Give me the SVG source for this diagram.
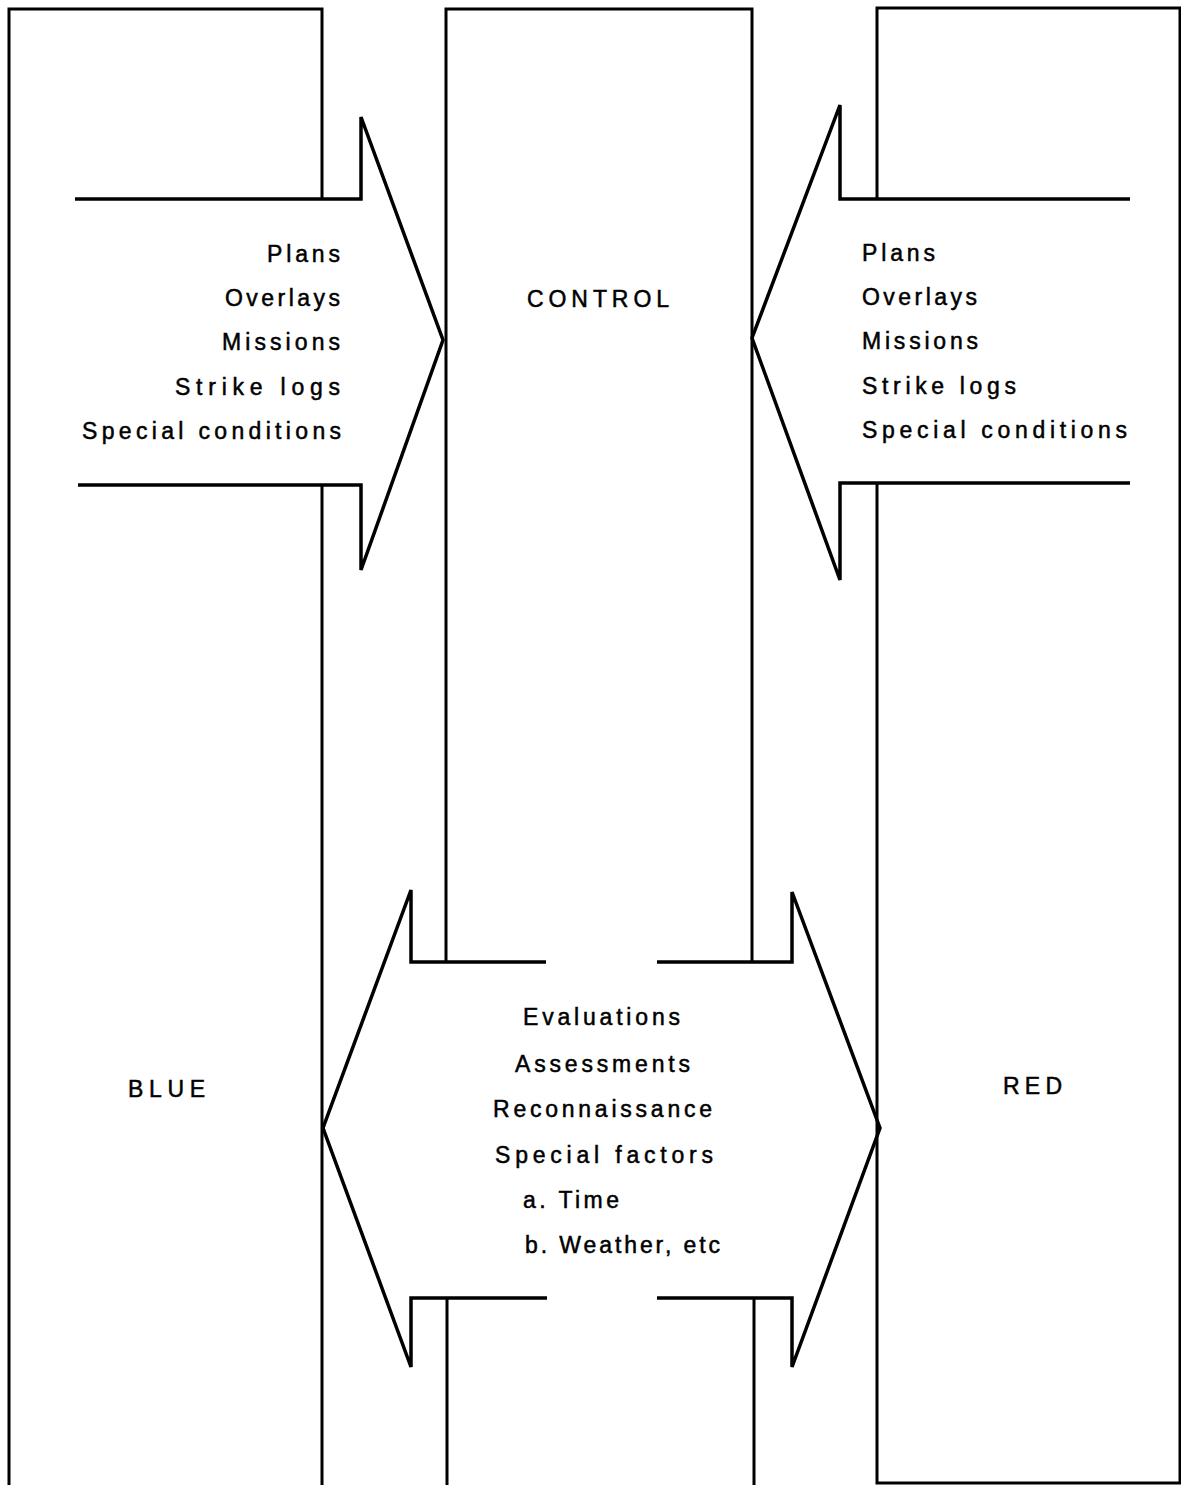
<svg xmlns="http://www.w3.org/2000/svg" width="1181" height="1485" viewBox="0 0 1181 1485">
  <style>
    .box { fill: none; stroke: #000; stroke-width: 3; stroke-linejoin: miter; }
    .arrow { fill: none; stroke: #000; stroke-width: 3.5; stroke-linejoin: miter; stroke-linecap: butt; }
    text { font-family: "Liberation Sans", Arial, sans-serif; font-size: 23px; fill: #000; stroke: #000; stroke-width: 0.5; }
  </style>
  <rect width="1181" height="1485" fill="#fff"/>

  <!-- BLUE side -->
  <g id="blue">
    <path class="box" d="M322 199 V9 H9 V1485 M322 485 V1485"/>
    <text x="128" y="1097" textLength="77" lengthAdjust="spacing">BLUE</text>
  </g>

  <!-- CONTROL -->
  <g id="control">
    <path class="box" d="M446 962 V9 H752 V962 M447 1298 V1485 M754 1298 V1485"/>
    <text x="527" y="307" textLength="142" lengthAdjust="spacing">CONTROL</text>
  </g>

  <!-- RED side -->
  <g id="red">
    <path class="box" d="M877 199 V8 H1180 V1483 H877 V483"/>
    <text x="1003" y="1094" textLength="59" lengthAdjust="spacing">RED</text>
  </g>

  <!-- flows between the parties -->
  <g id="connectors">
    <g id="blue-to-control">
      <path class="arrow" d="M75 199 H361 V117 L443 340 L361 570 V485 H78"/>
      <text x="267" y="262" textLength="73" lengthAdjust="spacing">Plans</text>
      <text x="225" y="306" textLength="115" lengthAdjust="spacing">Overlays</text>
      <text x="222" y="350" textLength="118" lengthAdjust="spacing">Missions</text>
      <text x="175" y="395" textLength="165" lengthAdjust="spacing">Strike logs</text>
      <text x="82" y="439" textLength="259" lengthAdjust="spacing">Special conditions</text>
    </g>
    <g id="red-to-control">
      <path class="arrow" d="M1130 199 H840 V105 L752 338 L840 580 V483 H1130"/>
      <text x="862" y="261" textLength="73" lengthAdjust="spacing">Plans</text>
      <text x="862" y="305" textLength="115" lengthAdjust="spacing">Overlays</text>
      <text x="862" y="349" textLength="116" lengthAdjust="spacing">Missions</text>
      <text x="862" y="394" textLength="154" lengthAdjust="spacing">Strike logs</text>
      <text x="862" y="438" textLength="265" lengthAdjust="spacing">Special conditions</text>
    </g>
    <g id="control-to-both">
      <path class="arrow" d="M546 962 H411 V890 L323 1128 L411 1367 V1298 H547"/>
      <path class="arrow" d="M657 962 H792 V892 L880 1128 L792 1367 V1298 H657"/>
      <text x="523" y="1025" textLength="157" lengthAdjust="spacing">Evaluations</text>
      <text x="515" y="1072" textLength="175" lengthAdjust="spacing">Assessments</text>
      <text x="493" y="1117" textLength="219" lengthAdjust="spacing">Reconnaissance</text>
      <text x="495" y="1163" textLength="218" lengthAdjust="spacing">Special factors</text>
      <text x="523" y="1208" textLength="96" lengthAdjust="spacing">a. Time</text>
      <text x="525" y="1253" textLength="195" lengthAdjust="spacing">b. Weather, etc</text>
    </g>
  </g>
</svg>
